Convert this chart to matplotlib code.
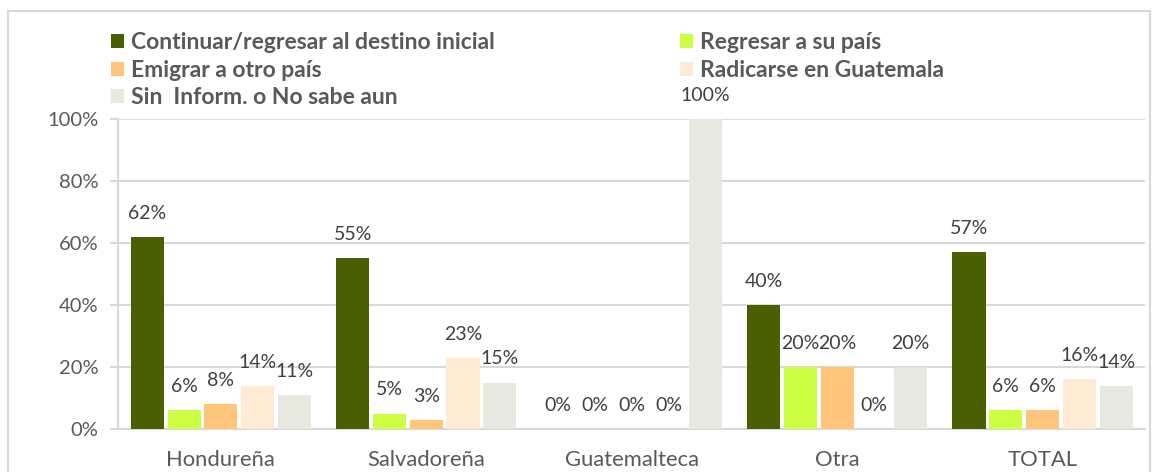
import numpy as np
import matplotlib.pyplot as plt
from matplotlib.patches import Rectangle

plt.rcParams['font.family'] = ['Lato', 'DejaVu Sans']

categories = ['Hondureña', 'Salvadoreña', 'Guatemalteca', 'Otra', 'TOTAL']
series_names = ['Continuar/regresar al destino inicial', 'Regresar a su país',
                'Emigrar a otro país', 'Radicarse en Guatemala',
                'Sin  Inform. o No sabe aun']
continuar = [62, 55, 0, 40, 57]
regresar = [6, 5, 0, 20, 6]
emigrar = [8, 3, 0, 20, 6]
radicarse = [14, 23, 0, 0, 16]
sin_inform = [11, 15, 100, 20, 14]
values = [continuar, regresar, emigrar, radicarse, sin_inform]
colors = ['#4A6000', '#CCFF44', '#FFC57A', '#FFEBD3', '#E7E8DF']

text_col = '#595959'
grid_col = '#D9D9D9'

fig = plt.figure(figsize=(11.58, 4.72), dpi=100)
ax = fig.add_axes([0.102, 0.091, 0.887, 0.657])

x = np.arange(len(categories))
step = 0.179
width = 0.161
handles = []
for i, (vals, col, name) in enumerate(zip(values, colors, series_names)):
    pos = x + (i - 2) * step
    b = ax.bar(pos, vals, width, color=col, label=name, zorder=3)
    handles.append(b)
    for px, v in zip(pos, vals):
        ax.annotate(f'{v}%', (px, v), xytext=(0, 17), textcoords='offset points',
                    ha='center', va='center', fontsize=14, color='#404040')

ax.set_xlim(-0.5, 4.5)
ax.set_ylim(0, 100)
ax.set_yticks(range(0, 101, 20))
ax.set_yticklabels([f'{t}%' for t in range(0, 101, 20)], fontsize=14.5, color=text_col)
ax.set_xticks(x)
ax.set_xticklabels(categories, fontsize=15.8, color=text_col)
ax.tick_params(axis='x', length=0, pad=15)
ax.tick_params(axis='y', length=6, color=grid_col, width=1.5, pad=8)
ax.grid(axis='y', color=grid_col, lw=1.5, zorder=0)
for s in ['top', 'right']:
    ax.spines[s].set_visible(False)
ax.spines['left'].set_color(grid_col)
ax.spines['left'].set_linewidth(1.5)
ax.spines['bottom'].set_color(grid_col)
ax.spines['bottom'].set_linewidth(1.5)

order = [0, 2, 4, 1, 3]
leg = fig.legend([handles[k] for k in order], [series_names[k] for k in order],
                 ncol=2, loc='upper left', bbox_to_anchor=(0.096, 0.932),
                 frameon=False, prop={'weight': 'bold', 'size': 16.5},
                 handlelength=0.55, handleheight=0.55, handletextpad=0.3,
                 labelspacing=0.29, columnspacing=8.1, borderpad=0, borderaxespad=0)
for t in leg.get_texts():
    t.set_color(text_col)

fig.patches.append(Rectangle((0.0069, -0.05), 0.9862, 1.0267, transform=fig.transFigure,
                             fill=False, edgecolor=grid_col, lw=1.5))

fig.savefig('out.png', dpi=100)
